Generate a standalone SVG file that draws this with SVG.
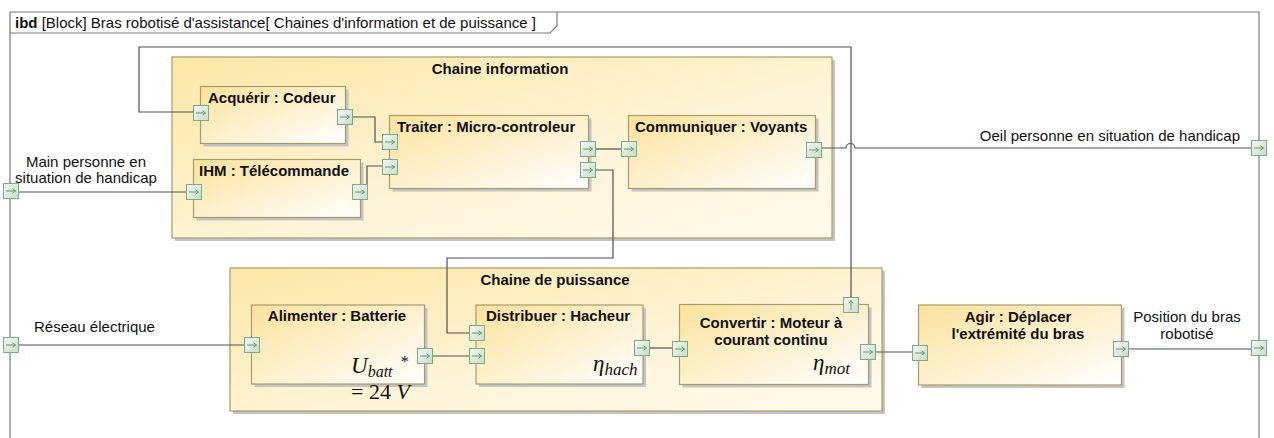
<svg xmlns="http://www.w3.org/2000/svg" width="1274" height="438" viewBox="0 0 1274 438">
<style>
.t{font-family:"Liberation Sans",Arial,sans-serif;font-size:15px;fill:#111}
.b{font-family:"Liberation Sans",Arial,sans-serif;font-size:15px;font-weight:bold;fill:#111}
.m{font-family:"Liberation Serif","Times New Roman",serif;font-style:italic;fill:#111}
.c{fill:none;stroke:#505050;stroke-width:1.2}
.outer{fill:url(#og);stroke:#A89B6A;stroke-width:1.2}
.inner{fill:url(#ig);stroke:#A89B6A;stroke-width:1.2}
.sh{fill:#C4C4C4}
</style>
<defs>
<linearGradient id="og" x1="0" y1="0" x2="1" y2="1">
<stop offset="0" stop-color="#FCE7A6"/>
<stop offset="0.6" stop-color="#FEF5DA"/>
<stop offset="1" stop-color="#FFFAEC"/>
</linearGradient>
<linearGradient id="ig" x1="0" y1="0" x2="1" y2="1">
<stop offset="0" stop-color="#FCE29C"/>
<stop offset="1" stop-color="#FFFFFF"/>
</linearGradient>
<linearGradient id="pg" x1="0" y1="0" x2="1" y2="1">
<stop offset="0" stop-color="#F4F8F4"/>
<stop offset="1" stop-color="#C9DCCB"/>
</linearGradient>
<g id="pr">
<rect x="0.5" y="0.5" width="15" height="15" fill="url(#pg)" stroke="#78AE84" stroke-width="1"/>
<path d="M3 8H12.5M9.5 5.8L12.5 8L9.5 10.2" fill="none" stroke="#5C9E68" stroke-width="1"/>
</g>
<g id="pu">
<rect x="0.5" y="0.5" width="15" height="15" fill="url(#pg)" stroke="#78AE84" stroke-width="1"/>
<path d="M8 13V3.5M5.8 6.5L8 3.5L10.2 6.5" fill="none" stroke="#5C9E68" stroke-width="1"/>
</g>
</defs>
<rect width="1274" height="438" fill="#FFFFFF"/>

<g id="frame">
<path d="M10 440V12H1259V440" fill="none" stroke="#7A7A7A" stroke-width="1.2"/>
<path d="M10 33H550L557 26V12" fill="none" stroke="#7A7A7A" stroke-width="1.2"/>
<text x="15" y="28" class="t"><tspan font-weight="bold">ibd</tspan> [Block] Bras robotisé d'assistance[ Chaines d'information et de puissance ]</text>
</g>

<g id="chaine-information">
<rect x="175" y="60" width="660" height="181" class="sh"/>
<rect x="172" y="57" width="660" height="181" class="outer"/>
<text x="500" y="74" class="b" text-anchor="middle">Chaine information</text>
</g>
<g id="chaine-puissance">
<rect x="233" y="271" width="652" height="143" class="sh"/>
<rect x="230" y="268" width="652" height="143" class="outer"/>
<text x="555" y="285" class="b" text-anchor="middle">Chaine de puissance</text>
</g>

<g id="acquerir">
<rect x="203.5" y="89.5" width="145" height="57" class="sh"/>
<rect x="200.5" y="86.5" width="145" height="57" class="inner"/>
<text x="208" y="103" class="b">Acquérir : Codeur</text>
</g>
<g id="ihm">
<rect x="196.5" y="162.5" width="167" height="58" class="sh"/>
<rect x="193.5" y="159.5" width="167" height="58" class="inner"/>
<text x="199" y="176" class="b">IHM : Télécommande</text>
</g>
<g id="traiter">
<rect x="392.5" y="118.5" width="199" height="73" class="sh"/>
<rect x="389.5" y="115.5" width="199" height="73" class="inner"/>
<text x="397" y="132" class="b">Traiter : Micro-controleur</text>
</g>
<g id="communiquer">
<rect x="631.5" y="118.5" width="187" height="73" class="sh"/>
<rect x="628.5" y="115.5" width="187" height="73" class="inner"/>
<text x="635" y="132" class="b">Communiquer : Voyants</text>
</g>
<g id="alimenter">
<rect x="254.5" y="308" width="173" height="79" class="sh"/>
<rect x="251.5" y="305" width="173" height="79" class="inner"/>
<text x="337" y="321" class="b" text-anchor="middle">Alimenter : Batterie</text>
<text x="351" y="373" class="m" font-size="23">U<tspan font-size="16" dy="4">batt</tspan></text>
<text x="400" y="367" class="m" font-size="16" font-style="normal">*</text>
<text x="351" y="399" class="m" font-size="22"><tspan font-style="normal">= 24 </tspan>V</text>
</g>
<g id="distribuer">
<rect x="479" y="308" width="167" height="79" class="sh"/>
<rect x="476" y="305" width="167" height="79" class="inner"/>
<text x="486" y="321" class="b">Distribuer : Hacheur</text>
<text x="593" y="371" class="m" font-size="23">η<tspan font-size="17" dy="4">hach</tspan></text>
</g>
<g id="convertir">
<rect x="682.5" y="307.5" width="189" height="80" class="sh"/>
<rect x="679.5" y="304.5" width="189" height="80" class="inner"/>
<text x="771" y="328" class="b" text-anchor="middle">Convertir : Moteur à</text>
<text x="771" y="345" class="b" text-anchor="middle">courant continu</text>
<text x="813" y="370" class="m" font-size="23">η<tspan font-size="17" dy="4">mot</tspan></text>
</g>
<g id="agir">
<rect x="921.5" y="308" width="203" height="80" class="sh"/>
<rect x="918.5" y="305" width="203" height="80" class="inner"/>
<text x="1018" y="322" class="b" text-anchor="middle">Agir : Déplacer</text>
<text x="1018" y="339" class="b" text-anchor="middle">l'extrémité du bras</text>
</g>

<g id="labels">
<text x="86" y="167" class="t" text-anchor="middle">Main personne en</text>
<text x="86" y="183" class="t" text-anchor="middle">situation de handicap</text>
<text x="1240" y="141" class="t" text-anchor="end">Oeil personne en situation de handicap</text>
<text x="34" y="332" class="t">Réseau électrique</text>
<text x="1187" y="322" class="t" text-anchor="middle">Position du bras</text>
<text x="1187" y="339" class="t" text-anchor="middle">robotisé</text>
</g>

<g id="connectors">
<path class="c" d="M18 192H186"/>
<path class="c" d="M367 186V166H382"/>
<path class="c" d="M353 117H375V142H382"/>
<path class="c" d="M851 297V47H139V112H194"/>
<path class="c" d="M596 149H621"/>
<path class="c" d="M596 170H613V258H447V333H469"/>
<path class="c" d="M822 148H846A4.5 4.5 0 0 1 855 148H1251"/>
<path class="c" d="M18 345H244"/>
<path class="c" d="M433 356H469"/>
<path class="c" d="M650 348H672"/>
<path class="c" d="M876 352H912"/>
<path class="c" d="M1129 349H1251"/>
</g>

<g id="ports">
<use href="#pr" x="3" y="183"/>
<use href="#pr" x="3" y="337"/>
<use href="#pr" x="1251" y="140"/>
<use href="#pr" x="1251" y="340"/>
<use href="#pr" x="193" y="105"/>
<use href="#pr" x="337" y="109"/>
<use href="#pr" x="186" y="184"/>
<use href="#pr" x="352" y="184"/>
<use href="#pr" x="382" y="134"/>
<use href="#pr" x="382" y="159"/>
<use href="#pr" x="580" y="141"/>
<use href="#pr" x="580" y="162"/>
<use href="#pr" x="621" y="141"/>
<use href="#pr" x="806" y="142"/>
<use href="#pr" x="244" y="337"/>
<use href="#pr" x="417" y="348"/>
<use href="#pr" x="469" y="325"/>
<use href="#pr" x="469" y="348"/>
<use href="#pr" x="634" y="340"/>
<use href="#pr" x="672" y="341"/>
<use href="#pu" x="843" y="297"/>
<use href="#pr" x="860" y="344"/>
<use href="#pr" x="912" y="345"/>
<use href="#pr" x="1113" y="341"/>
</g>
</svg>
